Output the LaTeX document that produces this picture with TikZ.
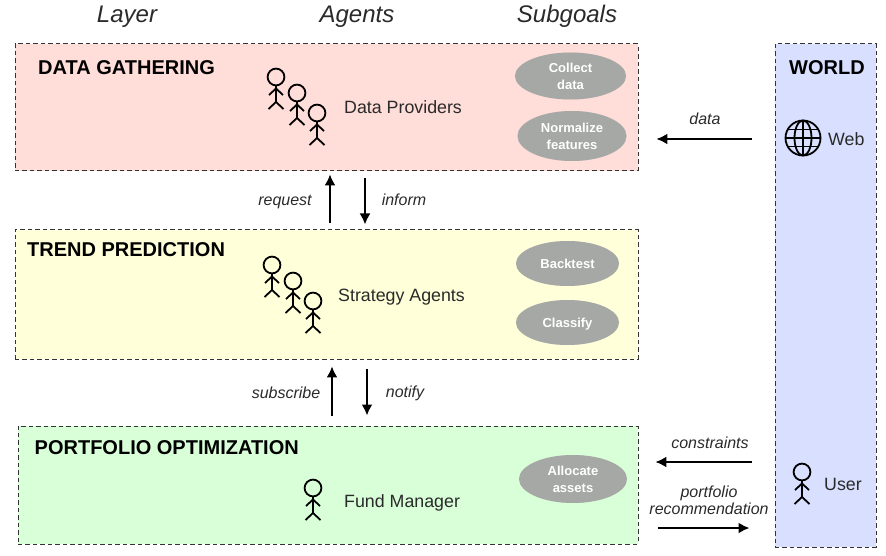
\documentclass[tikz,border=0pt]{standalone}
\usepackage{fontspec}
\setmainfont{Liberation Sans}
\usetikzlibrary{calc,shadows,arrows.meta,shapes.geometric}
\definecolor{gatherfill}{HTML}{FFDDD9}
\definecolor{trendfill}{HTML}{FFFFD9}
\definecolor{portfill}{HTML}{D9FFD9}
\definecolor{worldfill}{HTML}{D9E0FF}
\definecolor{goalfill}{HTML}{A5A8A5}
\definecolor{lighttext}{HTML}{2A2A2A}
\tikzset{
  x=1pt,y=-1pt,
  layerbox/.style={draw=black!80,line width=0.9pt,dash pattern=on 4.5pt off 3pt,inner sep=0pt,anchor=north west},
  layerlabel/.style={font=\fontsize{20}{24}\selectfont\bfseries,text=black,anchor=west,inner sep=0pt},
  colhead/.style={font=\fontsize{24}{28}\selectfont\itshape,text=lighttext,inner sep=0pt},
  agentlabel/.style={font=\fontsize{17.8}{21}\selectfont,text=lighttext,inner sep=0pt},
  edgelabel/.style={font=\fontsize{16}{17}\selectfont\itshape,text=lighttext,inner sep=0pt,align=center},
  goal/.style={ellipse,fill=goalfill,text=white,font=\fontsize{13}{17}\selectfont\bfseries,align=center,inner sep=0pt,
     general shadow={fill=black!35,opacity=0.35,shift={(0pt,-1.5pt)}}},
  conn/.style={-{Latex[length=11pt,width=11pt]},line width=2pt,black},
  stick/.pic={
    \draw[line width=1.8pt,black] (0,0) circle[radius=8.4];
    \draw[line width=1.8pt,black] (0,8.4) -- (0,25);
    \draw[line width=1.8pt,black] (-7,18) -- (0,11.5) -- (7,18);
    \draw[line width=1.8pt,black] (-7.5,32) -- (0,25) -- (7.5,32);
  }
}
\begin{document}
\begin{tikzpicture}
\useasboundingbox (0,0) rectangle (886,556);
% layers
\node[layerbox,fill=gatherfill,minimum width=623,minimum height=127] (gather) at (14.5,43.5) {};
\node[layerbox,fill=trendfill,minimum width=623,minimum height=129] (trend) at (14.5,229.5) {};
\node[layerbox,fill=portfill,minimum width=620,minimum height=118] (port) at (17.5,425.5) {};
\node[layerbox,fill=worldfill,minimum width=101,minimum height=503] (world) at (774.5,43.5) {};
% column heads
\node[colhead] (hlayer) at (127,16.5) {Layer};
\node[colhead] (hagents) at (357,16.5) {Agents};
\node[colhead] (hgoals) at (567,16.5) {Subgoals};
% layer titles
\node[layerlabel] (tgather) at (38,67.5) {DATA GATHERING};
\node[layerlabel] (ttrend) at (27,249.5) {TREND PREDICTION};
\node[layerlabel] (tport) at (34.5,447.5) {PORTFOLIO OPTIMIZATION};
\node[layerlabel,anchor=center] (tworld) at (827,67.5) {WORLD};
% agents
\pic at (276,77) {stick};
\pic at (297,93) {stick};
\pic at (317,113) {stick};
\node[agentlabel,anchor=west] (providers) at (344,107) {Data Providers};
\pic at (272,265) {stick};
\pic at (293,281) {stick};
\pic at (313,301) {stick};
\node[agentlabel,anchor=west] (strategy) at (338,297) {Strategy Agents};
\pic at (313,488) {stick};
\node[agentlabel,anchor=west] (fund) at (344,503) {Fund Manager};
\pic at (802,472) {stick};
\node[agentlabel,anchor=west] (user) at (824,484) {User};
% globe
\begin{scope}[shift={(803,138)},line width=1.8pt,black]
  \draw (0,0) circle[radius=17.5];
  \draw (0,0) ellipse[x radius=8.5,y radius=17.5];
  \draw (0,-17.5) -- (0,17.5);
  \draw (-17.5,0) -- (17.5,0);
  \draw (-15,-8.5) -- (15,-8.5);
  \draw (-15,8.5) -- (15,8.5);
\end{scope}
\node[agentlabel,anchor=west] (web) at (828,139) {Web};
% goals
\node[goal,minimum width=111,minimum height=47] (g1) at (570.5,76) {Collect\\data};
\node[goal,minimum width=109,minimum height=50] (g2) at (572,136) {Normalize\\features};
\node[goal,minimum width=103,minimum height=45] (g3) at (567.5,263.5) {Backtest};
\node[goal,minimum width=103,minimum height=45,text depth=0pt] (g4) at (567.5,322.5) {Classify};
\node[goal,minimum width=108,minimum height=48] (g5) at (573,479) {Allocate\\assets};
% connectors
\coordinate (c1) at (330,0);
\coordinate (c2) at (365,0);
\coordinate (c3) at (332,0);
\coordinate (c4) at (367,0);
\draw[conn,shorten <=6pt,shorten >=3pt] (c1 |- trend.north) -- (c1 |- gather.south);
\draw[conn,shorten <=7pt,shorten >=5pt] (c2 |- gather.south) -- (c2 |- trend.north);
\draw[conn,shorten <=10pt,shorten >=7pt] (c3 |- port.north) -- (c3 |- trend.south);
\draw[conn,shorten <=10pt,shorten >=10pt] (c4 |- trend.south) -- (c4 |- port.north);
\draw[conn,shorten <=23pt,shorten >=18pt] (world.west |- web.center) -- (gather.east |- web.center);
\coordinate (cy) at (0,462);
\coordinate (ry) at (0,528);
\draw[conn,shorten <=23pt,shorten >=17pt] (world.west |- cy) -- (port.east |- cy);
\draw[conn,shorten <=20pt,shorten >=25pt] (port.east |- ry) -- (world.west |- ry);
% connector labels
\node[edgelabel] (lreq) at (285,202) {request};
\node[edgelabel] (linf) at (404,200) {inform};
\node[edgelabel] (lsub) at (286,393) {subscribe};
\node[edgelabel] (lnot) at (405,393) {notify};
\node[edgelabel] (ldata) at (705,119) {data};
\node[edgelabel] (lcons) at (710,443) {constraints};
\node[edgelabel] (lrec) at (709,500) {portfolio\\recommendation};
\end{tikzpicture}
\end{document}
